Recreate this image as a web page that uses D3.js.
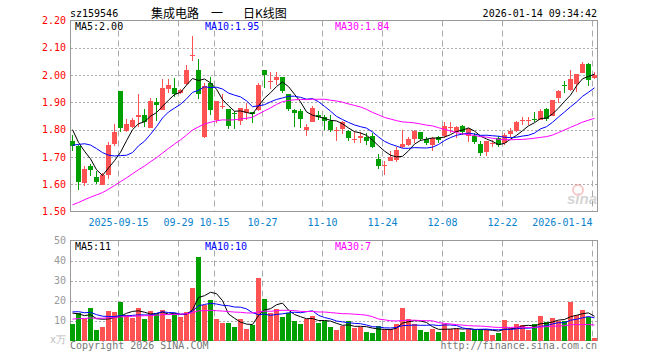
<!DOCTYPE html>
<html>
<head>
<meta charset="utf-8">
<script src="https://cdn.jsdelivr.net/npm/d3@7"></script>
<style>
body { margin: 0; background: #fff; }
text { font-family: "DejaVu Sans Mono", monospace; font-size: 10px; }
.cjk { font-family: "Noto Sans CJK SC", sans-serif; font-size: 12px; }
</style>
</head>
<body>
<svg id="chart" width="660" height="360"></svg>
<script>
// daily K data, 2025-09-03 .. 2026-01-14
const openP = [1.76, 1.74, 1.607, 1.666, 1.628, 1.60, 1.635, 1.745, 1.94, 1.795,
  1.812, 1.845, 1.854, 1.808, 1.90, 1.871, 1.95, 1.953, 1.935, 1.97,
  2.074, 2.017, 1.773, 1.972, 1.833, 1.885, 1.877, 1.862, 1.834, 1.862,
  1.866, 1.87, 2.017, 1.977, 1.98, 1.992, 1.932, 1.871, 1.868, 1.798,
  1.83, 1.855, 1.847, 1.833, 1.799, 1.80, 1.796, 1.766, 1.768, 1.773,
  1.778, 1.693, 1.669, 1.686, 1.692, 1.737, 1.745, 1.763, 1.791, 1.767,
  1.745, 1.773, 1.778, 1.808, 1.79, 1.815, 1.778, 1.778, 1.749, 1.715,
  1.749, 1.77, 1.751, 1.782, 1.794, 1.834, 1.833, 1.838, 1.837, 1.874,
  1.851, 1.913, 1.962, 1.943, 1.968, 2.008, 2.042, 1.99];
const highP = [1.78, 1.745, 1.668, 1.675, 1.647, 1.64, 1.753, 1.82, 1.94, 1.84,
  1.843, 1.93, 1.877, 1.916, 1.916, 1.986, 1.984, 1.99, 1.95, 2.036,
  2.143, 2.06, 1.972, 1.993, 1.904, 1.932, 1.877, 1.868, 1.88, 1.898,
  1.866, 1.972, 2.017, 2.012, 2.012, 1.992, 1.932, 1.874, 1.874, 1.819,
  1.888, 1.87, 1.852, 1.852, 1.81, 1.833, 1.80, 1.794, 1.79, 1.788,
  1.788, 1.709, 1.686, 1.72, 1.737, 1.798, 1.772, 1.80, 1.791, 1.773,
  1.773, 1.778, 1.828, 1.828, 1.815, 1.818, 1.805, 1.788, 1.76, 1.76,
  1.763, 1.776, 1.788, 1.805, 1.83, 1.846, 1.846, 1.865, 1.876, 1.88,
  1.91, 1.947, 1.98, 2.017, 2.005, 2.047, 2.045, 2.01];
const lowP = [1.72, 1.58, 1.592, 1.63, 1.60, 1.598, 1.62, 1.74, 1.79, 1.79,
  1.807, 1.81, 1.81, 1.808, 1.83, 1.871, 1.935, 1.92, 1.93, 1.965,
  2.05, 1.914, 1.77, 1.853, 1.825, 1.874, 1.804, 1.804, 1.818, 1.834,
  1.825, 1.868, 1.953, 1.95, 1.962, 1.935, 1.868, 1.81, 1.806, 1.778,
  1.828, 1.834, 1.798, 1.793, 1.76, 1.783, 1.76, 1.751, 1.751, 1.745,
  1.733, 1.656, 1.632, 1.684, 1.68, 1.733, 1.741, 1.751, 1.76, 1.745,
  1.72, 1.751, 1.77, 1.788, 1.77, 1.782, 1.755, 1.749, 1.705, 1.705,
  1.736, 1.735, 1.745, 1.773, 1.79, 1.818, 1.818, 1.827, 1.837, 1.83,
  1.849, 1.898, 1.935, 1.941, 1.939, 2.006, 1.96, 1.985];
const closeP = [1.74, 1.607, 1.657, 1.651, 1.61, 1.635, 1.745, 1.79, 1.805, 1.822,
  1.837, 1.854, 1.827, 1.906, 1.888, 1.953, 1.965, 1.932, 1.945, 2.02,
  2.075, 1.929, 1.959, 1.874, 1.904, 1.886, 1.815, 1.858, 1.88, 1.877,
  1.858, 1.962, 2.0, 1.978, 1.992, 1.941, 1.877, 1.861, 1.837, 1.81,
  1.88, 1.847, 1.833, 1.80, 1.80, 1.827, 1.77, 1.767, 1.775, 1.757,
  1.739, 1.666, 1.67, 1.699, 1.727, 1.749, 1.766, 1.794, 1.766, 1.751,
  1.77, 1.763, 1.815, 1.809, 1.81, 1.794, 1.804, 1.757, 1.717, 1.757,
  1.75, 1.745, 1.779, 1.794, 1.827, 1.835, 1.834, 1.837, 1.87, 1.837,
  1.91, 1.94, 1.961, 1.984, 2.005, 2.042, 1.984, 2.00];
// volume, 万
const volume = [8.3, 14, 10.7, 16.3, 5.3, 6.8, 14.8, 14.3, 19.3, 12.8,
  11.5, 16.3, 10.8, 14.8, 14, 15.3, 10.8, 13.3, 11.7, 14.3,
  26.3, 42, 17.7, 20.3, 10.8, 8.8, 8.8, 6.8, 10.8, 5.8,
  7.7, 31.3, 20.8, 13.8, 15.8, 11.8, 13.8, 9.8, 8.3, 10.8,
  12.3, 8.8, 9.8, 6.8, 5.3, 7.3, 9.8, 6.3, 6.8, 4.3,
  3.8, 7.3, 5.8, 5.8, 8.3, 16.3, 10.8, 8.3, 5.3, 4.3,
  5.8, 4.3, 8.3, 5.8, 5.8, 4.3, 5.8, 5.8, 5.8, 5.3,
  2.8, 3.8, 10.3, 6.3, 8.3, 7.8, 5.3, 8.3, 12.3, 9.3,
  11.3, 9.8, 9.8, 19.3, 12.8, 15.3, 11.8, 1.3];
// the 29 sessions before the window, only used to start the moving averages
const prevClose = [1.36, 1.35, 1.37, 1.36, 1.38, 1.37, 1.39, 1.38, 1.40, 1.39,
  1.41, 1.42, 1.43, 1.45, 1.44, 1.46, 1.45, 1.48, 1.50, 1.52,
  1.58, 1.63, 1.70, 1.74, 1.78, 1.84, 1.82, 1.79, 1.81];
const prevVolume = [7, 9, 8, 10, 6, 9, 11, 8, 7, 10,
  9, 8, 12, 9, 7, 10, 11, 8, 9, 10,
  13, 16, 14, 17, 14.5, 16, 15, 14, 15.2];

const tickIdx = [8, 18, 24, 32, 42, 52, 62, 72, 87];
const tickLabels = ['2025-09-15', '09-29', '10-15', '10-27', '11-10', '11-24', '12-08', '12-22', '2026-01-14'];
const priceTicks = [2.2, 2.1, 2.0, 1.9, 1.8, 1.7, 1.6, 1.5];
const volTicks = [50, 40, 30, 20, 10];
const maDays = [5, 10, 30];
const maColors = ['#000', '#00f', '#f0f'];
const priceMaText = ['2.00', '1.95', '1.84'];
const volMaText = ['11', '10', '7'];

const red = '#ff5252';
const green = '#00a000';

const svg = d3.select('#chart');
const n = closeP.length;
const left = 70;
const right = 597;

const x = d3.scaleLinear().domain([0, n]).range([left, left + n * 6]);
const y = d3.scaleLinear().domain([1.5, 2.2]).range([211.5, 20.5]);
const yv = d3.scaleLinear().domain([0, 50]).range([340.5, 240.5]);

function movingAvg(prev, cur, days)
{
  const all = prev.concat(cur);
  return cur.map((d, i) => d3.mean(all.slice(prev.length + i - days + 1, prev.length + i + 1)));
}

const isUp = i => closeP[i] >= openP[i];

// frames and grid
[[20.5, 211.5, priceTicks.slice(1, -1), y], [240.5, 340.5, volTicks.slice(1), yv]].forEach(([top, bottom, ticks, sc]) =>
{
  const g = svg.append('g');
  g.selectAll('line.h')
  .data(ticks)
  .enter().append('line')
  .attr('x1', left + 1).attr('x2', right)
  .attr('y1', d => Math.round(sc(d)) + 0.5)
  .attr('y2', d => Math.round(sc(d)) + 0.5)
  .attr('stroke', '#aaa')
  .attr('stroke-dasharray', '2,2');

  g.selectAll('line.v')
  .data(tickIdx)
  .enter().append('line')
  .attr('x1', d => x(d) + 0.5).attr('x2', d => x(d) + 0.5)
  .attr('y1', top).attr('y2', bottom)
  .attr('stroke', '#aaa')
  .attr('stroke-dasharray', '6,4');

  g.append('rect')
  .attr('x', left + 0.5).attr('y', top)
  .attr('width', right - left).attr('height', bottom - top)
  .attr('fill', 'none')
  .attr('stroke', '#999');
});

// sina mark
const mark = svg.append('g').attr('opacity', 0.35);
mark.append('circle').attr('cx', 578).attr('cy', 190).attr('r', 5)
  .attr('fill', 'none').attr('stroke', '#e66').attr('stroke-width', 2);
mark.append('text').attr('x', 597).attr('y', 204).attr('text-anchor', 'end')
  .style('font-family', 'Arial, sans-serif').style('font-size', '15px')
  .style('font-style', 'italic').style('font-weight', 'bold')
  .attr('fill', '#888').text('sina');

// candles
const candle = svg.append('g').selectAll('g')
  .data(d3.range(n))
  .enter().append('g');

candle.append('line')
  .attr('x1', i => x(i) + 2.5).attr('x2', i => x(i) + 2.5)
  .attr('y1', i => Math.round(y(highP[i])))
  .attr('y2', i => Math.round(y(lowP[i])))
  .attr('stroke', i => (isUp(i) ? red : green));

candle.append('rect')
  .attr('x', i => x(i))
  .attr('width', 5)
  .attr('y', i => Math.round(y(Math.max(openP[i], closeP[i]))))
  .attr('height', i => Math.max(1, Math.round(Math.abs(y(openP[i]) - y(closeP[i])))))
  .attr('fill', i => (isUp(i) ? red : green));

// volume bars
svg.append('g').selectAll('rect')
  .data(volume)
  .enter().append('rect')
  .attr('x', (d, i) => x(i))
  .attr('width', 5)
  .attr('y', d => Math.round(yv(d)))
  .attr('height', d => 341 - Math.round(yv(d)))
  .attr('fill', (d, i) => (isUp(i) ? red : green));

// moving averages
maDays.forEach((days, k) =>
{
  const pLine = d3.line().x((d, i) => x(i) + 2.5).y(d => y(d));
  const vLine = d3.line().x((d, i) => x(i) + 2.5).y(d => yv(d));
  svg.append('path')
  .datum(movingAvg(prevClose, closeP, days))
  .attr('fill', 'none')
  .attr('stroke', maColors[k])
  .attr('d', pLine);
  svg.append('path')
  .datum(movingAvg(prevVolume, volume, days))
  .attr('fill', 'none')
  .attr('stroke', maColors[k])
  .attr('d', vLine);
});

// axes
const yAxis = svg.append('g')
  .attr('transform', `translate(${left},0)`)
  .call(d3.axisLeft(y).tickValues(priceTicks).tickFormat(d3.format('.2f')).tickSize(0).tickPadding(4));
yAxis.select('.domain').remove();
yAxis.selectAll('text').attr('fill', '#f00');

const vAxis = svg.append('g')
  .attr('transform', `translate(${left},0)`)
  .call(d3.axisLeft(yv).tickValues(volTicks).tickSize(0).tickPadding(4));
vAxis.select('.domain').remove();
vAxis.selectAll('text').attr('fill', '#999');

const xAxis = svg.append('g')
  .attr('transform', 'translate(0,211.5)')
  .call(d3.axisBottom(x).tickValues(tickIdx).tickFormat((d, i) => tickLabels[i]).tickSize(0).tickPadding(7));
xAxis.select('.domain').remove();
xAxis.selectAll('text').attr('fill', '#0a82cc');
xAxis.selectAll('text').filter((d, i) => i === tickIdx.length - 1).attr('text-anchor', 'end');

// MA captions
const capX = [75, 205, 335];
svg.selectAll('text.pma')
  .data(maDays)
  .enter().append('text')
  .attr('x', (d, i) => capX[i]).attr('y', 29.5)
  .attr('fill', (d, i) => maColors[i])
  .text((d, i) => `MA${d}:${priceMaText[i]}`);
svg.selectAll('text.vma')
  .data(maDays)
  .enter().append('text')
  .attr('x', (d, i) => capX[i]).attr('y', 250)
  .attr('fill', (d, i) => maColors[i])
  .text((d, i) => `MA${d}:${volMaText[i]}`);

// header and footer
svg.append('text').attr('x', 70).attr('y', 17).text('sz159546');
const title = svg.append('text').attr('class', 'cjk').attr('y', 17.5);
title.append('tspan').attr('x', 151).text('集成电路');
title.append('tspan').attr('x', 211).text('一');
title.append('tspan').attr('x', 243).text('日K线图');
svg.append('text').attr('x', right).attr('y', 17).attr('text-anchor', 'end').text('2026-01-14 09:34:42');

svg.append('text').attr('x', 50).attr('y', 343).attr('fill', '#bbb').text('x万');
svg.append('text').attr('x', 70).attr('y', 349).attr('fill', '#777').text('Copyright 2026 SINA.COM');
svg.append('text').attr('x', right).attr('y', 349).attr('text-anchor', 'end').attr('fill', '#777')
  .text('http://finance.sina.com.cn');
</script>
</body>
</html>
